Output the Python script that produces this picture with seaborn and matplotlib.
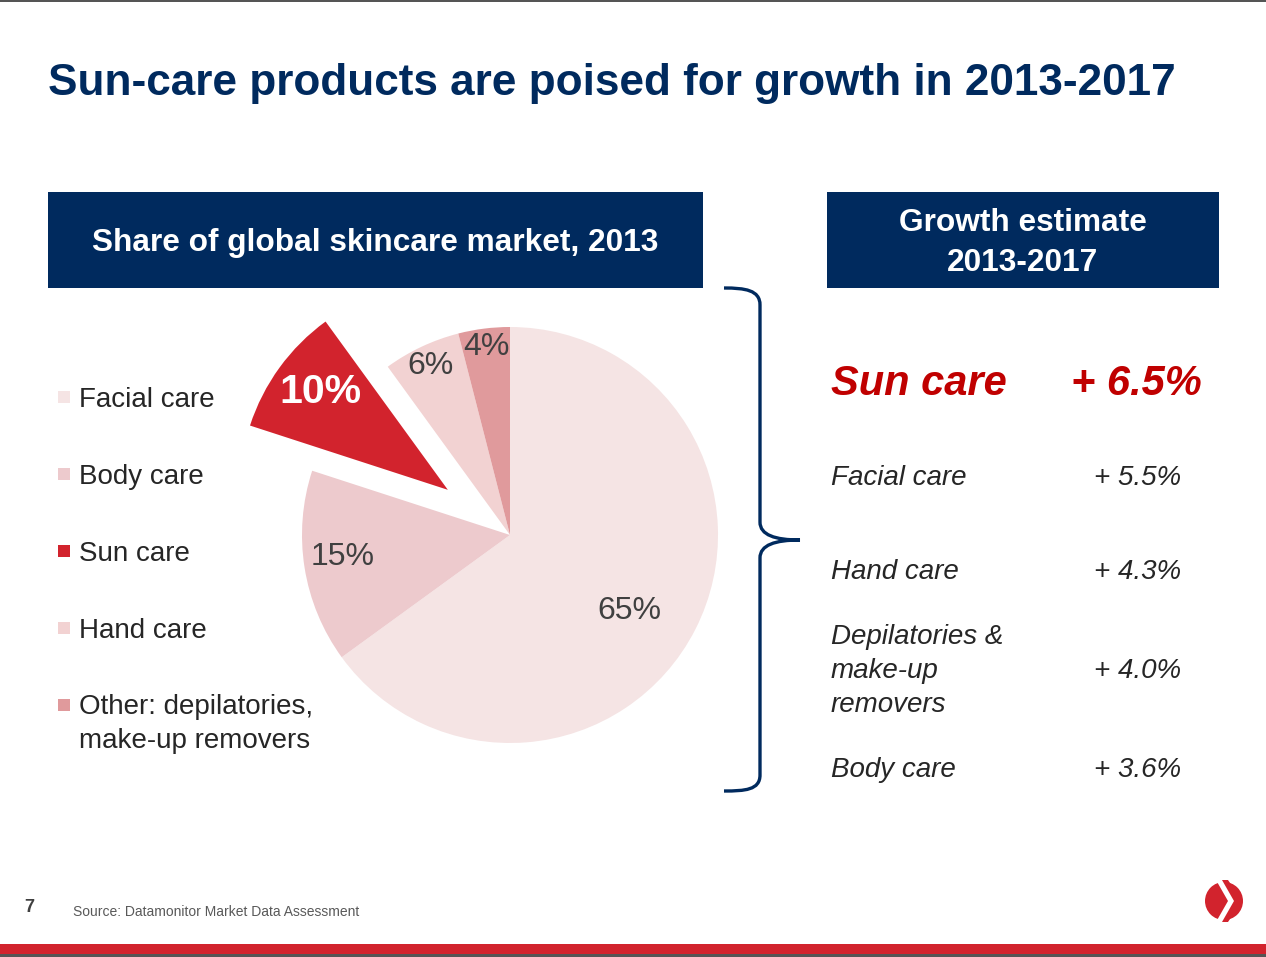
import numpy as np
import matplotlib
matplotlib.use("Agg")
import matplotlib.pyplot as plt
import seaborn as sns
from matplotlib.path import Path
from matplotlib.patches import PathPatch, Rectangle, Ellipse, Polygon

# data
categories = ["Facial care", "Body care", "Sun care", "Hand care", "Other: depilatories,\nmake-up removers"]
shares = [65, 15, 10, 6, 4]
share_colors = ["#F5E4E4", "#EDCACD", "#D2232D", "#F2D2D2", "#E09A9C"]

growth_labels = ["Sun care", "Facial care", "Hand care", "Depilatories &\nmake-up\nremovers", "Body care"]
growth_values = ["+ 6.5%", "+ 5.5%", "+ 4.3%", "+ 4.0%", "+ 3.6%"]

NAVY = "#002A5E"
RED = "#D2232D"
TXT = "#262626"

sns.set_theme(style="white")
plt.rcParams['font.family'] = ['Liberation Sans', 'DejaVu Sans']

W, H = 1266, 957
fig = plt.figure(figsize=(W / 100, H / 100), dpi=100)
fig.patch.set_facecolor("white")

def fx(x):
    return x / W

def fy(y):
    return 1 - y / H

# pie axes: centre (510, 535), radius 208 px
cx, cy, half = 510, 535, 270
ax = fig.add_axes([fx(cx - half), fy(cy + half), 2 * half / W, 2 * half / H])

explode = [0, 0, 0.37, 0, 0]
wedges, _ = ax.pie(shares, colors=share_colors, startangle=90, counterclock=False,
                   explode=explode, radius=208 / 270 * 1.3,
                   wedgeprops=dict(linewidth=0))
ax.set_xlim(-1.3, 1.3)
ax.set_ylim(-1.3, 1.3)
ax.set_aspect("equal")
ax.axis("off")

# label placement: fraction of radius and angle nudge (deg)
label_dist = [0.68, 0.81, 0.77, 0.9, 0.91]
label_turn = [-5.5, -1.5, -1.5, 0, 0]
for w, s, d, t in zip(wedges, shares, label_dist, label_turn):
    mid = np.deg2rad((w.theta1 + w.theta2) / 2 + t)
    x0, y0 = w.center
    r = w.r * d
    if s == 10:
        ax.text(x0 + r * np.cos(mid), y0 + r * np.sin(mid), f"{s}%", ha="center", va="center",
                fontsize=29.5, fontweight="bold", color="white")
    else:
        ax.text(x0 + r * np.cos(mid), y0 + r * np.sin(mid), f"{s}%", ha="center", va="center",
                fontsize=23, color="#404040")

# top line and title
fig.add_artist(Rectangle((0, fy(2)), 1, 2 / H, transform=fig.transFigure, color="#555555", lw=0))
fig.text(fx(48), fy(83), "Sun-care products are poised for growth in 2013-2017", fontsize=31.8,
         fontweight="bold", color=NAVY, va="center", ha="left")

# header boxes
fig.add_artist(Rectangle((fx(48), fy(288)), (703 - 48) / W, 96 / H, transform=fig.transFigure,
                         color=NAVY, lw=0))
fig.text(fx(375), fy(243), "Share of global skincare market, 2013", fontsize=22.8, fontweight="bold",
         color="white", ha="center", va="center")
fig.add_artist(Rectangle((fx(827), fy(288)), (1219 - 827) / W, 96 / H, transform=fig.transFigure,
                         color=NAVY, lw=0))
fig.text(fx(1023), fy(243), "Growth estimate\n2013-2017", fontsize=22.8, fontweight="bold",
         color="white", ha="center", va="center", linespacing=1.4)

# legend
leg_y = [397, 474, 551, 628, 705]
for name, col, y in zip(categories, share_colors, leg_y):
    fig.add_artist(Rectangle((fx(58), fy(y + 6)), 12 / W, 12 / H, transform=fig.transFigure,
                             color=col, lw=0))
    if "\n" in name:
        fig.text(fx(79), fy(y - 11), name, fontsize=20, color=TXT, ha="left", va="top",
                 linespacing=1.4)
    else:
        fig.text(fx(79), fy(y + 3), name, fontsize=20, color=TXT, ha="left", va="center")

# brace
verts = [(724, 288), (745, 288), (760, 290), (760, 305),
         (760, 522),
         (760, 535), (775, 540), (800, 540),
         (775, 540), (760, 545), (760, 558),
         (760, 775),
         (760, 790), (745, 791), (724, 791)]
codes = [Path.MOVETO, Path.CURVE4, Path.CURVE4, Path.CURVE4,
         Path.LINETO,
         Path.CURVE4, Path.CURVE4, Path.CURVE4,
         Path.CURVE4, Path.CURVE4, Path.CURVE4,
         Path.LINETO,
         Path.CURVE4, Path.CURVE4, Path.CURVE4]
verts = [(fx(x), fy(y)) for x, y in verts]
fig.add_artist(PathPatch(Path(verts, codes), transform=fig.transFigure, fill=False,
                         edgecolor=NAVY, lw=2.4))

# growth list
grow_y = [384, 478, 572, 671, 770]
for i, (lab, val, y) in enumerate(zip(growth_labels, growth_values, grow_y)):
    if i == 0:
        fig.text(fx(831), fy(y), lab, fontsize=30, fontweight="bold", fontstyle="italic",
                 color="#C00000", ha="left", va="center")
        fig.text(fx(1202), fy(y), val, fontsize=30, fontweight="bold", fontstyle="italic",
                 color="#C00000", ha="right", va="center")
    else:
        fig.text(fx(831), fy(y), lab, fontsize=20, fontstyle="italic", color=TXT,
                 ha="left", va="center", linespacing=1.42)
        fig.text(fx(1181), fy(y), val, fontsize=20, fontstyle="italic", color=TXT,
                 ha="right", va="center")

# footer
fig.text(fx(24), fy(907), "7", fontsize=13, fontweight="bold", color="#404040", va="center")
fig.text(fx(73), fy(912), "Source: Datamonitor Market Data Assessment", fontsize=10,
         color="#595959", va="center")
fig.add_artist(Ellipse((fx(1224), fy(901)), 38 / W, 38 / H, transform=fig.transFigure,
                       color=RED, lw=0))
chev = [(1216, 880), (1224, 880), (1236, 901), (1224, 922), (1216, 922), (1228, 901)]
fig.add_artist(Polygon([(fx(x), fy(y)) for x, y in chev], closed=True, transform=fig.transFigure,
                       color="white", lw=0))
chev2 = [(1222, 880), (1228, 880), (1242, 901), (1228, 922), (1222, 922), (1234, 901)]
fig.add_artist(Polygon([(fx(x), fy(y)) for x, y in chev2], closed=True, transform=fig.transFigure,
                       color=RED, lw=0))
fig.add_artist(Rectangle((0, fy(954)), 1, 10 / H, transform=fig.transFigure, color=RED, lw=0))
fig.add_artist(Rectangle((0, 0), 1, 3 / H, transform=fig.transFigure, color="#555555", lw=0))

fig.savefig("out.png", dpi=100, facecolor="white")
